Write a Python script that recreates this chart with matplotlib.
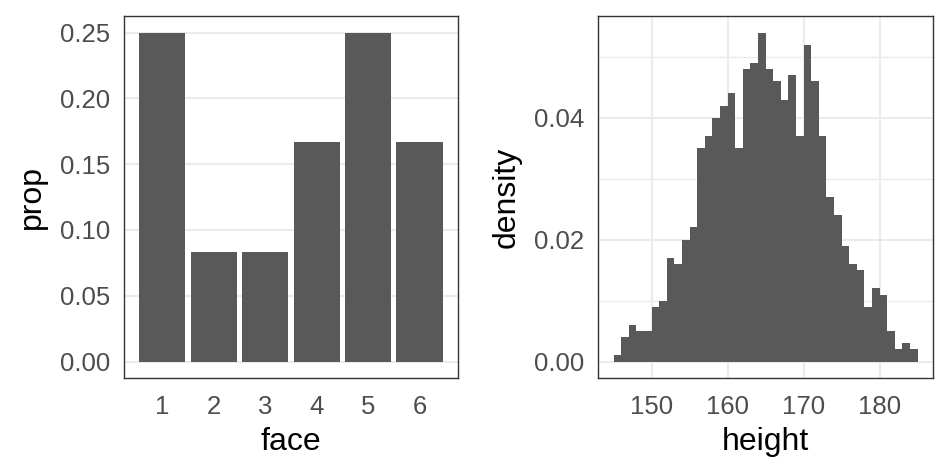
import numpy as np
import matplotlib
matplotlib.use("Agg")
import matplotlib.pyplot as plt

plt.rcParams["font.family"] = ["Liberation Sans", "DejaVu Sans"]

# die faces and their proportions
faces = [1, 2, 3, 4, 5, 6]
props = [1/4, 1/12, 1/12, 1/6, 1/4, 1/6]

# height histogram, bins of width 1 from 145 to 185
bin_edges = list(range(145, 186))
densities = [0.001, 0.004, 0.006, 0.005, 0.005, 0.009, 0.010, 0.017, 0.016, 0.020,
             0.022, 0.035, 0.037, 0.040, 0.042, 0.044, 0.035, 0.048, 0.049, 0.054,
             0.048, 0.046, 0.043, 0.047, 0.037, 0.052, 0.046, 0.037, 0.027, 0.024,
             0.019, 0.016, 0.015, 0.009, 0.012, 0.011, 0.005, 0.002, 0.003, 0.002]

bar_col = "#595959"
grid_col = "#EBEBEB"
text_col = "#4D4D4D"

fig = plt.figure(figsize=(9.5, 4.75), dpi=100)
ax1 = fig.add_axes([0.1305, 0.2042, 0.3516, 0.762])
ax2 = fig.add_axes([0.6298, 0.2042, 0.352, 0.762])

def style(ax):
    for s in ax.spines.values():
        s.set_color("#333333")
        s.set_linewidth(1.0)
    ax.tick_params(length=0, labelsize=18.5, labelcolor=text_col)
    ax.tick_params(axis="x", pad=12)
    ax.tick_params(axis="y", pad=10)
    ax.set_axisbelow(True)

# left: bar chart of face proportions
ax1.bar(faces, props, width=0.9, color=bar_col)
ax1.set_xlim(0.255, 6.745)
ax1.set_ylim(-0.0125, 0.2625)
ax1.set_xticks(faces)
ax1.set_yticks([0, 0.05, 0.10, 0.15, 0.20, 0.25])
ax1.set_yticklabels(["0.00", "0.05", "0.10", "0.15", "0.20", "0.25"])
ax1.grid(axis="y", color=grid_col, linewidth=1.5)
style(ax1)
ax1.set_xlabel("face", fontsize=23, labelpad=6)
ax1.set_ylabel("prop", fontsize=23, labelpad=9)

# right: density histogram of heights
ax2.bar(bin_edges[:-1], densities, width=1, align="edge", color=bar_col)
ax2.set_xlim(143, 187)
ax2.set_ylim(-0.0027, 0.0567)
ax2.set_xticks([150, 160, 170, 180])
ax2.set_yticks([0, 0.02, 0.04])
ax2.set_yticklabels(["0.00", "0.02", "0.04"])
ax2.set_yticks([0.01, 0.03, 0.05], minor=True)
ax2.grid(which="major", color=grid_col, linewidth=1.5)
ax2.grid(which="minor", axis="y", color=grid_col, linewidth=1.0)
ax2.tick_params(which="minor", length=0)
style(ax2)
ax2.set_xlabel("height", fontsize=23, labelpad=6)
ax2.set_ylabel("density", fontsize=23, labelpad=9)

fig.savefig("out.png", dpi=100)
